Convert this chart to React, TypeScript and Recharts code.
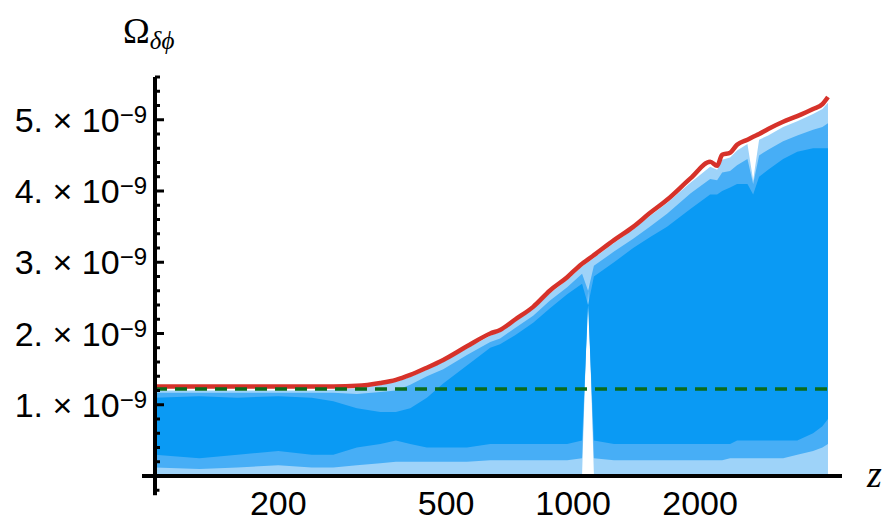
import { ComposedChart, Area, Line, XAxis, YAxis, ReferenceLine } from "recharts";

// redshift samples (log axis) and values in units of 1e-9
const zValues = [102, 130, 160, 200, 240, 270, 307, 349, 380, 411, 450, 492, 560, 636, 671, 730, 804, 880, 968, 1050, 1085, 1120, 1250, 1388, 1520, 1670, 1900, 2113, 2195, 2256, 2356, 2447, 2590, 2672, 2760, 2900, 3147, 3400, 3706, 3900, 4020];
const redEnvelope = [1.255, 1.255, 1.255, 1.255, 1.255, 1.256, 1.265, 1.306, 1.35, 1.419, 1.52, 1.629, 1.82, 2.0, 2.05, 2.2, 2.374, 2.6, 2.79, 2.98, 3.04, 3.1, 3.31, 3.497, 3.69, 3.876, 4.18, 4.41, 4.354, 4.508, 4.537, 4.649, 4.72, 4.761, 4.8, 4.87, 4.972, 5.05, 5.15, 5.22, 5.32];
const blueTop = [1.2, 1.2, 1.2, 1.2, 1.2, 1.21, 1.23, 1.28, 1.32, 1.39, 1.49, 1.6, 1.79, 1.97, 2.02, 2.17, 2.34, 2.56, 2.75, 2.94, 3.0, 3.06, 3.27, 3.46, 3.65, 3.83, 4.12, 4.34, 4.3, 4.44, 4.47, 4.57, 4.66, 4.15, 4.72, 4.78, 4.9, 4.98, 5.08, 5.15, 5.24];
const blueBottom = [0.02, 0.02, 0.02, 0.02, 0.02, 0.02, 0.02, 0.02, 0.02, 0.02, 0.02, 0.02, 0.02, 0.02, 0.02, 0.02, 0.02, 0.02, 0.02, 0.02, 2.7, 0.02, 0.02, 0.02, 0.02, 0.02, 0.02, 0.02, 0.02, 0.02, 0.02, 0.02, 0.02, 0.02, 0.02, 0.02, 0.02, 0.02, 0.02, 0.02, 0.02];
const midLow = [0.12, 0.1, 0.12, 0.15, 0.12, 0.12, 0.15, 0.18, 0.2, 0.2, 0.2, 0.2, 0.2, 0.22, 0.22, 0.22, 0.22, 0.22, 0.22, 0.25, 2.6, 0.25, 0.22, 0.22, 0.22, 0.22, 0.22, 0.22, 0.22, 0.22, 0.25, 0.25, 0.25, 0.25, 0.25, 0.25, 0.25, 0.3, 0.35, 0.4, 0.45];
const midHigh = [1.17, 1.17, 1.17, 1.17, 1.17, 1.17, 1.15, 1.18, 1.2, 1.28, 1.4, 1.5, 1.7, 1.88, 1.93, 2.08, 2.25, 2.46, 2.65, 2.84, 2.6, 2.95, 3.15, 3.33, 3.5, 3.68, 3.97, 4.17, 4.15, 4.26, 4.28, 4.36, 4.45, 4.1, 4.5, 4.58, 4.7, 4.78, 4.86, 4.9, 4.95];
const coreLow = [0.3, 0.25, 0.3, 0.35, 0.3, 0.3, 0.4, 0.45, 0.5, 0.45, 0.4, 0.4, 0.4, 0.45, 0.45, 0.45, 0.45, 0.45, 0.45, 0.5, 2.4, 0.5, 0.45, 0.45, 0.45, 0.45, 0.45, 0.45, 0.45, 0.45, 0.45, 0.5, 0.5, 0.5, 0.5, 0.5, 0.5, 0.5, 0.6, 0.7, 0.8];
const coreHigh = [1.1, 1.12, 1.1, 1.12, 1.1, 1.05, 0.95, 0.9, 0.9, 0.95, 1.1, 1.3, 1.55, 1.8, 1.85, 1.98, 2.15, 2.35, 2.55, 2.7, 2.4, 2.8, 3.0, 3.2, 3.35, 3.5, 3.75, 3.95, 3.95, 4.0, 4.05, 4.1, 4.1, 3.95, 4.2, 4.3, 4.45, 4.55, 4.6, 4.6, 4.6];
const plateau = 1.22;

const xDomain = [102, 4340];
const xTicks = [200, 500, 1000, 2000];
const yTicks = [0, 0.2, 0.4, 0.6, 0.8, 1, 1.2, 1.4, 1.6, 1.8, 2, 2.2, 2.4, 2.6, 2.8, 3, 3.2, 3.4, 3.6, 3.8, 4, 4.2, 4.4, 4.6, 4.8, 5, 5.2, 5.4, 5.6];

const rows = zValues.map((z, i) => ({
  z,
  red: redEnvelope[i],
  light: [blueBottom[i], blueTop[i]],
  mid: [midLow[i], midHigh[i]],
  core: [coreLow[i], coreHigh[i]],
}));
const plateauRows = [
  { z: zValues[0], level: plateau },
  { z: zValues[zValues.length - 1], level: plateau },
];

const sans = "'Liberation Sans', Arial, sans-serif";
const serif = "'Liberation Serif', 'Times New Roman', serif";

function YTick(props: any) {
  const { x, y, payload } = props;
  const v = payload.value;
  const major = Math.abs(v - Math.round(v)) < 1e-6;
  return (
    <g>
      <line x1={x} x2={x + (major ? 9 : 5)} y1={y} y2={y} stroke="#000" strokeWidth={3} />
      {major && v > 0 && (
        <text x={x - 8} y={y + 12} textAnchor="end" fontFamily={sans} fontSize={34} fill="#000">
          {`${Math.round(v)}. × 10`}
          <tspan fontSize={24} dy={-9}>−9</tspan>
        </text>
      )}
    </g>
  );
}

function XTick(props: any) {
  const { x, y, payload } = props;
  return (
    <text x={x} y={y + 39} textAnchor="middle" fontFamily={sans} fontSize={34} fill="#000">
      {payload.value}
    </text>
  );
}

function ZLabel(props: any) {
  const vb = props.viewBox || { x: 155, y: 476, width: 687 };
  return (
    <text x={vb.x + vb.width + 25} y={vb.y + 11} fontFamily={serif} fontStyle="italic" fontSize={38} fill="#000">
      z
    </text>
  );
}

function OmegaLabel() {
  return (
    <text x={123} y={43} fontFamily={serif} fontSize={36} fill="#000">
      Ω
      <tspan fontSize={25} fontStyle="italic" dy={6}>δϕ</tspan>
    </text>
  );
}

export default function App() {
  return (
    <div style={{ position: "absolute", left: 0, top: 0, background: "#fff" }}>
      <ComposedChart width={884} height={522} data={rows} margin={{ top: 77, right: 42, bottom: 0, left: 0 }}>
        <XAxis
          dataKey="z"
          type="number"
          scale="log"
          domain={xDomain}
          ticks={xTicks}
          interval={0}
          allowDataOverflow
          height={46}
          axisLine={{ stroke: "#000", strokeWidth: 4 }}
          tickLine={false}
          tickSize={0}
          tickMargin={0}
          tick={<XTick />}
          label={{ content: <ZLabel /> }}
        />
        <YAxis
          type="number"
          domain={[0, 5.6]}
          ticks={yTicks}
          interval={0}
          allowDataOverflow
          width={155}
          axisLine={{ stroke: "#000", strokeWidth: 4 }}
          tickLine={false}
          tickSize={0}
          tickMargin={0}
          tick={<YTick />}
          label={{ content: <OmegaLabel /> }}
        />
        <Area type="linear" dataKey="light" stroke="none" fill="#9ed3f9" fillOpacity={1} isAnimationActive={false} activeDot={false} />
        <Area type="linear" dataKey="mid" stroke="none" fill="#47aef6" fillOpacity={1} isAnimationActive={false} activeDot={false} />
        <Area type="linear" dataKey="core" stroke="none" fill="#0a9af4" fillOpacity={1} isAnimationActive={false} activeDot={false} />
        <Line type="monotone" dataKey="red" stroke="#d6322a" strokeWidth={4.5} dot={false} activeDot={false} isAnimationActive={false} />
        <Line data={plateauRows} type="linear" dataKey="level" stroke="#0b6b1c" strokeWidth={3.5} strokeDasharray="12 8" dot={false} activeDot={false} isAnimationActive={false} />
        <ReferenceLine segment={[{ x: xDomain[0], y: 0 }, { x: xDomain[0], y: -0.27 }]} stroke="#000" strokeWidth={4} ifOverflow="visible" />
        <ReferenceLine segment={[{ x: 95, y: 0 }, { x: xDomain[0], y: 0 }]} stroke="#000" strokeWidth={4} ifOverflow="visible" />
        <ReferenceLine segment={[{ x: xDomain[0], y: -0.2 }, { x: 104.5, y: -0.2 }]} stroke="#000" strokeWidth={3} ifOverflow="visible" />
      </ComposedChart>
    </div>
  );
}
